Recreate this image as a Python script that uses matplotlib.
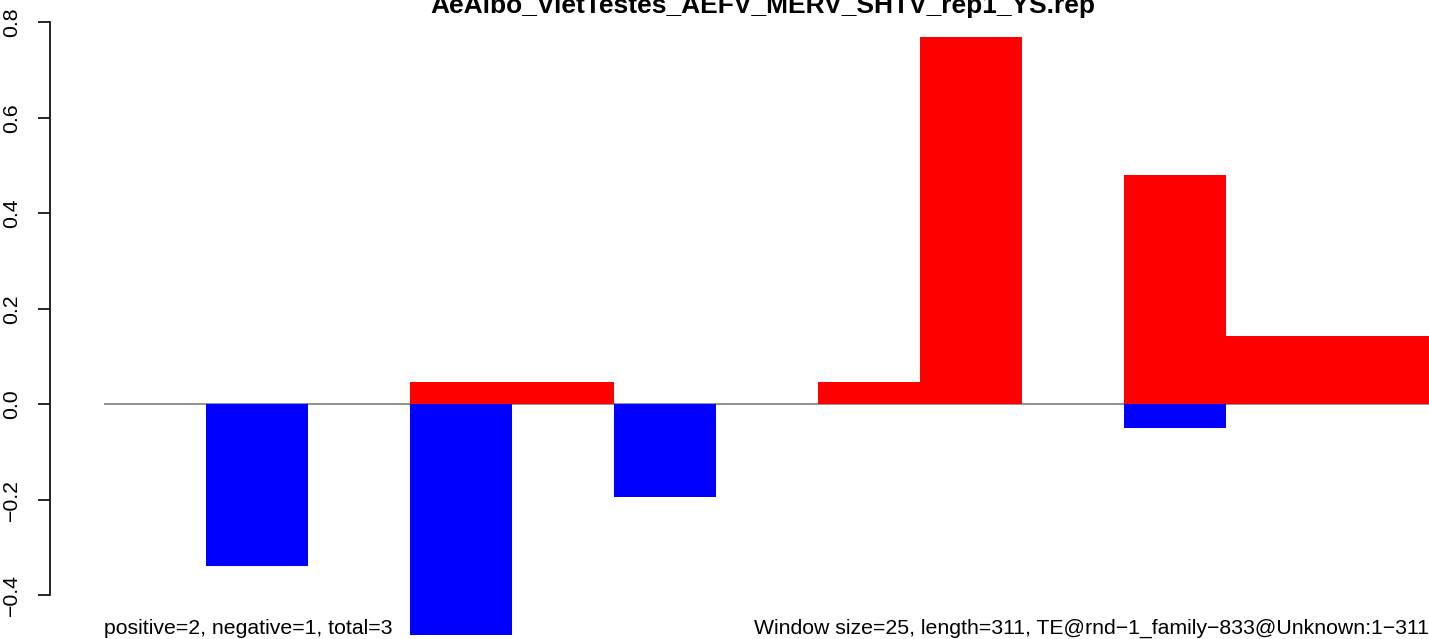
import matplotlib
matplotlib.use("Agg")
import matplotlib.pyplot as plt

plt.rcParams['font.family'] = ['Liberation Sans', 'DejaVu Sans']

title = "AeAlbo_VietTestes_AEFV_MERV_SHTV_rep1_YS.rep"
left_note = "positive=2, negative=1, total=3"
right_note = "Window size=25, length=311, TE@rnd\u22121_family\u2212833@Unknown:1\u2212311"

bins = list(range(13))
pos_vals = [0, 0, 0, 0.047, 0.047, 0, 0, 0.047, 0.770, 0, 0.480, 0.144, 0.144]
neg_vals = [0, -0.338, 0, -0.483, 0, -0.1935, 0, 0, 0, 0, -0.049, 0, 0]
yticks = [-0.4, -0.2, 0.0, 0.2, 0.4, 0.6, 0.8]
ytick_labels = ["\u22120.4", "\u22120.2", "0.0", "0.2", "0.4", "0.6", "0.8"]

W, H = 1429, 639
fig = plt.figure(figsize=(W / 100, H / 100), dpi=100)
x0, x1 = 104, 1430
ax = fig.add_axes([x0 / W, 0, (x1 - x0) / W, 1])
ax.set_xlim(0, 13)
zero_px, px_per_unit = 404.3, 477.5
ax.set_ylim((zero_px - H) / px_per_unit, zero_px / px_per_unit)

ax.axhline(0, color='#808080', lw=1.2, zorder=1)
ax.bar(bins, pos_vals, width=1.0, align='edge', color='#ff0000', lw=0, zorder=2)
ax.bar(bins, neg_vals, width=1.0, align='edge', color='#0000ff', lw=0, zorder=2)

for s in ['top', 'right', 'bottom']:
    ax.spines[s].set_visible(False)
ax.spines['left'].set_position(('outward', (x0 - 50) * 0.72))
ax.spines['left'].set_bounds(-0.4, 0.8)
ax.spines['left'].set_linewidth(1.2)
ax.set_xticks([])
ax.set_yticks(yticks)
ax.set_yticklabels(ytick_labels, rotation=90, va='center', fontsize=15.3)
ax.tick_params(axis='y', length=12 * 0.72, width=1.2, pad=12)
ax.patch.set_alpha(0)

fig.text(763 / W, 1 - 13 / H, title, ha='center', va='baseline',
         fontsize=19, fontweight='bold')
fig.text(104 / W, 1 - 634 / H, left_note, ha='left', va='baseline', fontsize=15.3)
fig.text(1429 / W, 1 - 634 / H, right_note, ha='right', va='baseline', fontsize=15.3)

fig.savefig("out.png", dpi=100)
